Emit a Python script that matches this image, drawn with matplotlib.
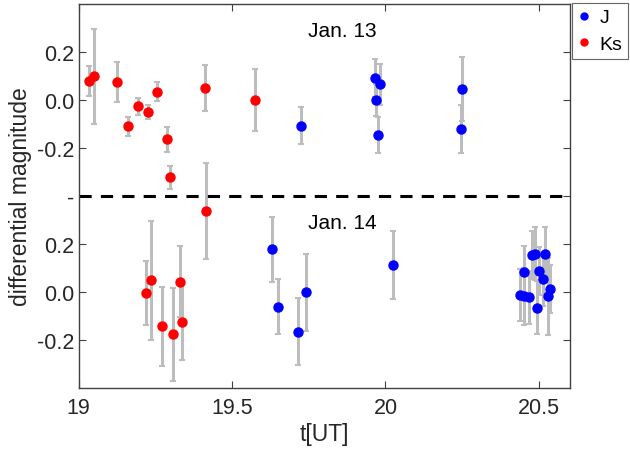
import matplotlib.pyplot as plt
from matplotlib.lines import Line2D

plt.rcParams['font.family'] = ['Liberation Sans', 'DejaVu Sans']

# Jan. 13 (top panel)
t13_ks = [19.035, 19.049, 19.126, 19.162, 19.193, 19.226, 19.256, 19.289, 19.296, 19.411, 19.573]
m13_ks = [0.080, 0.099, 0.075, -0.110, -0.026, -0.050, 0.035, -0.164, -0.322, 0.050, 0.000]
e13_ks = [0.062, 0.197, 0.082, 0.040, 0.036, 0.029, 0.038, 0.052, 0.049, 0.097, 0.130]

t13_j = [19.724, 19.965, 19.981, 19.970, 19.975, 20.251, 20.247]
m13_j = [-0.108, 0.092, 0.065, 0.000, -0.146, 0.047, -0.121]
e13_j = [0.077, 0.080, 0.085, 0.065, 0.074, 0.134, 0.100]

# Jan. 14 (bottom panel)
t14_ks = [19.219, 19.237, 19.270, 19.306, 19.329, 19.337, 19.415]
m14_ks = [-0.003, 0.049, -0.143, -0.176, 0.043, -0.125, 0.339]
e14_ks = [0.132, 0.247, 0.163, 0.193, 0.148, 0.158, 0.200]

t14_j = [19.630, 19.648, 19.715, 19.742, 20.025,
         20.438, 20.451, 20.453, 20.468, 20.477, 20.486,
         20.494, 20.500, 20.512, 20.521, 20.530, 20.537]
m14_j = [0.178, -0.060, -0.165, -0.001, 0.112,
         -0.012, 0.082, -0.018, -0.021, 0.154, 0.160,
         -0.065, 0.088, 0.054, 0.160, -0.018, 0.013]
e14_j = [0.134, 0.116, 0.140, 0.159, 0.141,
         0.110, 0.110, 0.120, 0.110, 0.100, 0.110,
         0.110, 0.100, 0.110, 0.110, 0.160, 0.100]

shift = 0.8
ytick_pos = [-1.0, -0.8, -0.6, -0.4, -0.2, 0.0, 0.2]
ytick_lab = ['-0.2', '0.0', '0.2', '-', '-0.2', '0.0', '0.2']

fig = plt.figure(figsize=(6.3, 4.52), dpi=100)
ax = fig.add_axes([0.125, 0.139, 0.779, 0.850])

grey = (0.74, 0.74, 0.74)
ebkw = dict(fmt='none', ecolor=grey, elinewidth=2.2, capsize=2, capthick=1.5, zorder=1)

ax.errorbar(t13_ks, m13_ks, yerr=e13_ks, **ebkw)
ax.errorbar(t13_j, m13_j, yerr=e13_j, **ebkw)
ax.errorbar(t14_ks, [m - shift for m in m14_ks], yerr=e14_ks, **ebkw)
ax.errorbar(t14_j, [m - shift for m in m14_j], yerr=e14_j, **ebkw)

ax.plot(t13_ks, m13_ks, 'o', color='red', ms=6.5, zorder=3)
ax.plot(t14_ks, [m - shift for m in m14_ks], 'o', color='red', ms=6.5, zorder=3)
ax.plot(t13_j, m13_j, 'o', color='blue', ms=6.5, zorder=3)
ax.plot(t14_j, [m - shift for m in m14_j], 'o', color='blue', ms=6.5, zorder=3)

# dashed separator between the two nights
ax.axhline(-shift / 2, color='black', ls='--', lw=2.2, dashes=(4, 3), zorder=2)

ax.text(19.748, 0.289, 'Jan. 13', fontsize=15, va='center')
ax.text(19.748, 0.289 - shift, 'Jan. 14', fontsize=15, va='center')

ax.set_xlim(19, 20.6)
ax.set_ylim(-1.2, 0.4)
ax.set_xticks([19, 19.5, 20, 20.5])
ax.set_xticklabels(['19', '19.5', '20', '20.5'])
ax.set_yticks(ytick_pos)
ax.set_yticklabels(ytick_lab)
ax.tick_params(direction='in', top=True, right=True, labelsize=15.5, length=5,
               color='#404040', labelcolor='#262626')
ax.tick_params(axis='x', pad=6)
for s in ax.spines.values():
    s.set_color('#404040')
    s.set_linewidth(1.0)

ax.set_xlabel('t[UT]', fontsize=16.5, color='#262626', labelpad=3)
ax.set_ylabel('differential magnitude', fontsize=16.5, color='#262626', labelpad=3)

handles = [Line2D([], [], ls='none', marker='o', color='blue', ms=5),
           Line2D([], [], ls='none', marker='o', color='red', ms=5)]
leg = fig.legend(handles, ['J', 'Ks'], loc='upper left', bbox_to_anchor=(572 / 630, 1 - 4 / 452),
                 fontsize=14, frameon=True, fancybox=False, edgecolor='#404040',
                 handlelength=0.6, handletextpad=0.5, borderpad=0.3, labelspacing=0.45,
                 borderaxespad=0)
leg.get_frame().set_linewidth(0.8)

fig.savefig('out.png', dpi=100)
